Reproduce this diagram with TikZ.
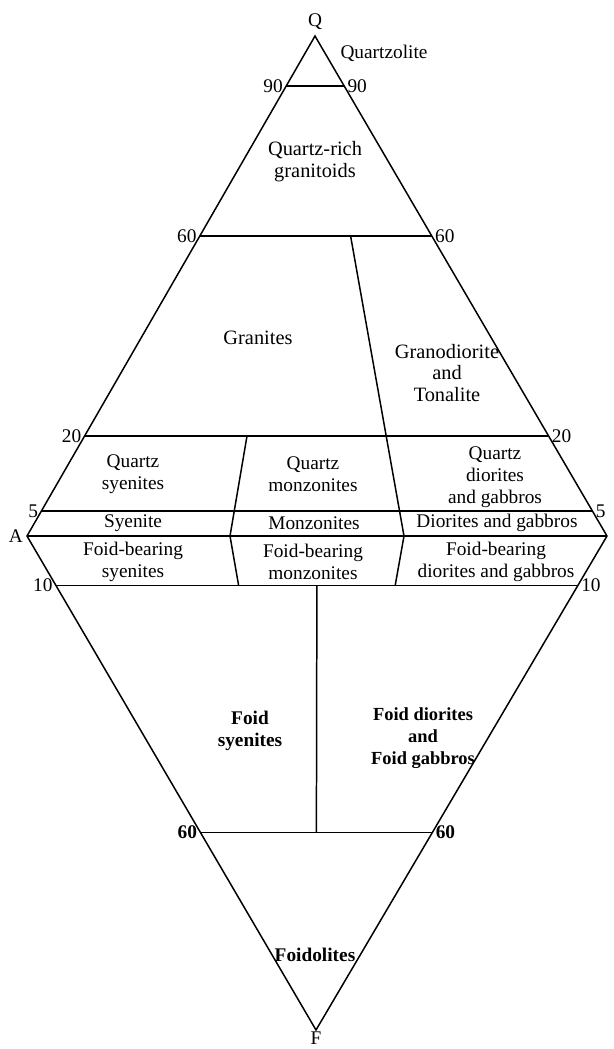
\documentclass[tikz,border=0pt]{standalone}
\usepackage{fontspec}
\setmainfont{Liberation Serif}
\usetikzlibrary{calc}
\tikzset{
  zona/.style={align=center, inner sep=0pt, font=\fontsize{11}{12.5}\selectfont},
  zonag/.style={zona, font=\fontsize{11.6}{12.5}\selectfont},
  zonab/.style={zona, font=\fontsize{11}{12.5}\selectfont\bfseries},
  escala/.style={inner sep=1.5pt, font=\fontsize{11}{12}\selectfont},
  vertice/.style={inner sep=2pt, font=\fontsize{11}{12}\selectfont},
}
\begin{document}
\begin{tikzpicture}[x=0.02cm, y=-0.02cm, line width=0.85pt]
  \useasboundingbox (0,0) rectangle (613,1049);
  % Vertices
    \coordinate (A) at (27,536);
    \coordinate (P) at (607,536);
    \coordinate (Q) at (315,36);
    \coordinate (F) at (316,1030);
    \node[vertice, above, inner sep=3pt] (nQ) at (Q) {Q};
    \node[vertice, left] (nA) at (A) {A};
    \node[vertice, below, inner sep=0.5pt] (nF) at (F) {F};
  % Contorno
    \draw (A) -- (Q) -- (P) -- (F) -- cycle;
    \draw (A) -- (P);
  % Niveles de Q
    \foreach \q/\n in {0.9/90, 0.6/60, 0.2/20, 0.05/5}
      \draw ($(A)!\q!(Q)$) node[escala, left] (qi\n) {\n} -- ($(P)!\q!(Q)$) node[escala, right] (qd\n) {\n};
  % Niveles de F
    \draw ($(A)!0.1!(F)$) node[escala, left] (fi10) {10} -- ($(P)!0.1!(F)$) node[escala, right] (fd10) {10};
    \draw ($(A)!0.6!(F)$) node[escala, left, font=\fontsize{11}{12}\selectfont\bfseries] (fi60) {60}
      -- ($(P)!0.6!(F)$) node[escala, right, font=\fontsize{11}{12}\selectfont\bfseries] (fd60) {60};
  % Divisiones
    \coordinate (a35) at ($(A)!0.35!(P)$);
    \coordinate (a50) at ($(A)!0.5!(P)$);
    \coordinate (a65) at ($(A)!0.65!(P)$);
    \draw ($(a65)!0.6!(Q)$) -- (a65) -- ($(a65)!0.1!(F)$);
    \draw ($(a35)!0.2!(Q)$) -- (a35) -- ($(a35)!0.1!(F)$);
    \draw ($(a50)!0.1!(F)$) -- ($(a50)!0.6!(F)$);
  % Campos
    \node[zona] (cuarzolita) at (384,53) {Quartzolite};
    \node[zonag] (granitoides) at (315,162) {Quartz-rich\\granitoids};
    \node[zonag] (granitos) at (258,338) {Granites};
    \node[zonag] (granodiorita) at (447,373) {Granodiorite\\and\\Tonalite};
    \node[zona] (qsienita) at (133,474) {Quartz\\syenites};
    \node[zona] (qmonzonita) at (313,474) {Quartz\\monzonites};
    \node[zona] (qdiorita) at (495,477) {Quartz\\diorites\\and gabbros};
    \node[zona] (sienita) at (133,523) {Syenite};
    \node[zona] (monzonita) at (314,523) {Monzonites};
    \node[zona] (diorita) at (497,523) {Diorites and gabbros};
    \node[zona] (fsienita) at (133,562) {Foid-bearing\\syenites};
    \node[zona] (fmonzonita) at (313,562) {Foid-bearing\\monzonites};
    \node[zona] (fdiorita) at (496,562) {Foid-bearing\\diorites and gabbros};
    \node[zonab] (foidsienita) at (250,731) {Foid\\syenites};
    \node[zonab, font=\fontsize{10.5}{12.5}\selectfont\bfseries] (foiddiorita) at (423,738) {Foid diorites\\and\\Foid gabbros};
    \node[zonab] (foidolita) at (315,955) {Foidolites};
\end{tikzpicture}
\end{document}
